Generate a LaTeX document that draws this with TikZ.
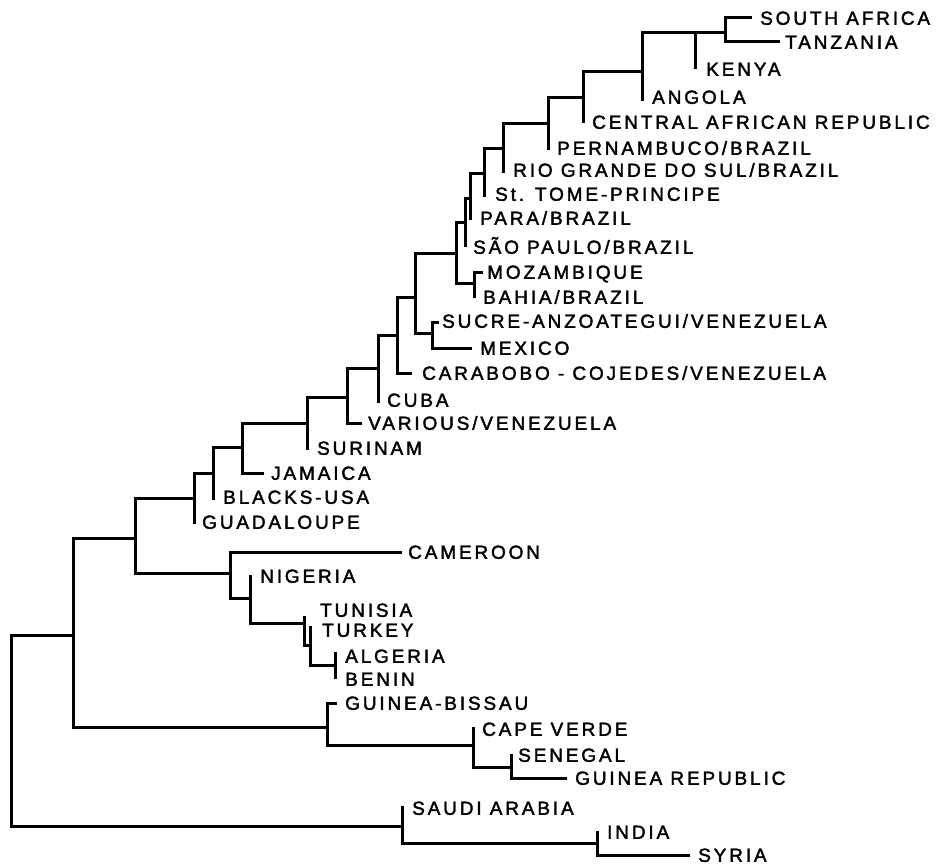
\documentclass[tikz,border=0pt]{standalone}
\usepackage{fontspec}
\newfontfamily\labfont[LetterSpace=15,FakeBold=2]{Liberation Sans}
\begin{document}
\begin{tikzpicture}[x=1pt,y=-1pt,
  br/.style={line width=3pt,line cap=rect,line join=miter},
  lab/.style={anchor=base west,inner sep=0pt,yshift=-6.8pt,font=\labfont\fontsize{19}{21}\selectfont}]
\useasboundingbox (0,0) rectangle (940,867);
% labels
\node[lab] (saf) at (760,18) {SOUTH AFRICA};
\node[lab] (tan) at (785,42) {TANZANIA};
\node[lab] (ken) at (706,69) {KENYA};
\node[lab] (ang) at (652,97) {ANGOLA};
\node[lab] (car) at (592,122) {CENTRAL AFRICAN REPUBLIC};
\node[lab] (per) at (557,148) {PERNAMBUCO/BRAZIL};
\node[lab] (rio) at (513,170) {RIO GRANDE DO SUL/BRAZIL};
\node[lab] (stt) at (495,194) {St. TOME-PRINCIPE};
\node[lab] (par) at (480,218) {PARA/BRAZIL};
\node[lab] (sao) at (473,247) {SÃO PAULO/BRAZIL};
\node[lab] (moz) at (487,272) {MOZAMBIQUE};
\node[lab] (bah) at (483,297) {BAHIA/BRAZIL};
\node[lab] (suc) at (442,321) {SUCRE-ANZOATEGUI/VENEZUELA};
\node[lab] (mex) at (480,348) {MEXICO};
\node[lab] (cara) at (422,373) {CARABOBO - COJEDES/VENEZUELA};
\node[lab] (cub) at (387,400) {CUBA};
\node[lab] (var) at (368,423) {VARIOUS/VENEZUELA};
\node[lab] (sur) at (317,448) {SURINAM};
\node[lab] (jam) at (271,473) {JAMAICA};
\node[lab] (bla) at (223,497) {BLACKS-USA};
\node[lab] (gua) at (202,522) {GUADALOUPE};
\node[lab] (cam) at (408,552) {CAMEROON};
\node[lab] (nig) at (260,576) {NIGERIA};
\node[lab] (tun) at (320,610) {TUNISIA};
\node[lab] (tur) at (322,630) {TURKEY};
\node[lab] (alg) at (345,656) {ALGERIA};
\node[lab] (ben) at (345,679) {BENIN};
\node[lab] (gbi) at (345,703) {GUINEA-BISSAU};
\node[lab] (cap) at (482,729) {CAPE VERDE};
\node[lab] (sen) at (518,755) {SENEGAL};
\node[lab] (gre) at (575,778) {GUINEA REPUBLIC};
\node[lab] (sau) at (412,808) {SAUDI ARABIA};
\node[lab] (ind) at (607,832) {INDIA};
\node[lab] (syr) at (698,855) {SYRIA};
% tree
\draw[br] (750,18) -- (725,18) -- (725,42) -- (778,42);
\draw[br] (642,33) -- (725,33);
\draw[br] (695,33) -- (695,68);
\draw[br] (642,33) -- (642,99);
\draw[br] (583,72) -- (642,72);
\draw[br] (583,72) -- (583,121);
\draw[br] (548,97) -- (583,97);
\draw[br] (548,97) -- (548,148);
\draw[br] (503,123) -- (548,123);
\draw[br] (503,123) -- (503,171);
\draw[br] (484,148) -- (503,148);
\draw[br] (484,148) -- (484,195);
\draw[br] (470,173) -- (484,173);
\draw[br] (470,173) -- (470,218);
\draw[br] (465,198) -- (470,198);
\draw[br] (465,198) -- (465,245);
\draw[br] (456,222) -- (465,222);
\draw[br] (456,222) -- (456,283) -- (474,283);
\draw[br] (481,272) -- (474,272) -- (474,296);
\draw[br] (415,253) -- (456,253);
\draw[br] (415,253) -- (415,333) -- (432,333);
\draw[br] (437,322) -- (432,322) -- (432,348) -- (470,348);
\draw[br] (397,297) -- (415,297);
\draw[br] (397,297) -- (397,373) -- (410,373);
\draw[br] (378,335) -- (397,335);
\draw[br] (378,335) -- (378,401);
\draw[br] (347,368) -- (378,368);
\draw[br] (347,368) -- (347,423) -- (360,423);
\draw[br] (307,397) -- (347,397);
\draw[br] (307,397) -- (307,448);
\draw[br] (242,423) -- (307,423);
\draw[br] (242,423) -- (242,473) -- (262,473);
\draw[br] (213,447) -- (242,447);
\draw[br] (213,447) -- (213,498);
\draw[br] (194,473) -- (213,473);
\draw[br] (194,473) -- (194,522);
\draw[br] (135,498) -- (194,498);
\draw[br] (135,498) -- (135,573) -- (230,573);
\draw[br] (400,552) -- (230,552) -- (230,598) -- (250,598);
\draw[br] (250,576) -- (250,623) -- (304,623);
\draw[br] (304,617) -- (304,645) -- (310,645);
\draw[br] (310,627) -- (310,665) -- (335,665);
\draw[br] (335,653) -- (335,677);
\draw[br] (73,538) -- (135,538);
\draw[br] (73,538) -- (73,727) -- (327,727);
\draw[br] (335,703) -- (327,703) -- (327,745) -- (473,745);
\draw[br] (473,728) -- (473,767) -- (511,767);
\draw[br] (511,755) -- (511,778) -- (565,778);
\draw[br] (73,635) -- (11,635) -- (11,826) -- (402,826);
\draw[br] (402,807) -- (402,843) -- (597,843);
\draw[br] (597,832) -- (597,855) -- (688,855);
\end{tikzpicture}
\end{document}
